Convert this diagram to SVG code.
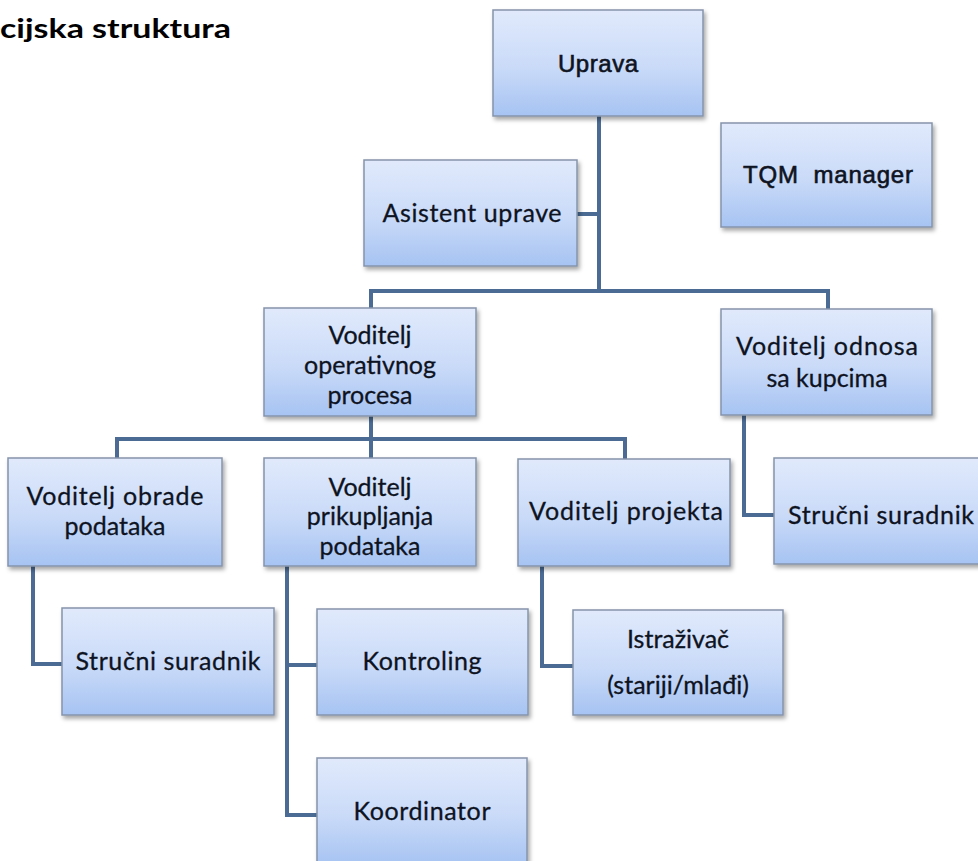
<svg xmlns="http://www.w3.org/2000/svg" width="978" height="861" viewBox="0 0 978 861">
<defs>
<linearGradient id="g" x1="0" y1="0" x2="0" y2="1">
<stop offset="0" stop-color="#e1eafc"/>
<stop offset="0.55" stop-color="#c9daf8"/>
<stop offset="1" stop-color="#a6c3f2"/>
</linearGradient>
<filter id="sh" x="-10%" y="-10%" width="125%" height="130%">
<feDropShadow dx="2" dy="3" stdDeviation="2" flood-color="#000" flood-opacity="0.35"/>
</filter>
</defs>
<style>
.box{fill:url(#g);stroke:#8594ab;stroke-width:1.5;filter:url(#sh)}
.t{font-family:Lato,"Open Sans","DejaVu Sans",sans-serif;font-size:25px;fill:#0e1322;text-anchor:middle;stroke:#0e1322;stroke-width:0.3}
.a{font-family:"Liberation Sans",Arial,sans-serif;font-size:24px;fill:#0e1322;text-anchor:middle;stroke:#0e1322;stroke-width:0.6}
.c{fill:none;stroke:#4b6b94;stroke-width:4}
</style>
<rect width="978" height="861" fill="#ffffff"/>
<text x="0" y="38" font-family="Lato,'Open Sans',sans-serif" font-size="26" font-weight="bold" fill="#000" textLength="231" lengthAdjust="spacingAndGlyphs">cijska struktura</text>
<g id="connectors">
<path class="c" d="M599 116V291M577 214H599M371 308V291H828V309M371 416V458M117 458V439H625V459M744 415V515H774M33 566V664H62M287 566V815H317M287 665H317M542 566V666H573"/>
</g>
<g id="uprava"><rect class="box" x="493" y="10" width="210" height="106"/><text class="a" x="598" y="72" textLength="80">Uprava</text></g>
<g id="asistent"><rect class="box" x="364" y="160" width="213" height="106"/><text class="t" x="472" y="222" textLength="179">Asistent uprave</text></g>
<g id="tqm"><rect class="box" x="721" y="123" width="211" height="104"/><text class="a" x="828" y="183" textLength="170" xml:space="preserve">TQM  manager</text></g>
<g id="operativni"><rect class="box" x="264" y="308" width="212" height="108"/><text class="t" x="370" y="344">Voditelj</text><text class="t" x="370" y="374">operativnog</text><text class="t" x="370" y="404">procesa</text></g>
<g id="odnosi"><rect class="box" x="721" y="309" width="211" height="106"/><text class="t" x="827" y="355" textLength="182">Voditelj odnosa</text><text class="t" x="827" y="387">sa kupcima</text></g>
<g id="obrada"><rect class="box" x="8" y="458" width="214" height="108"/><text class="t" x="115" y="505" textLength="177">Voditelj obrade</text><text class="t" x="115" y="535">podataka</text></g>
<g id="prikupljanje"><rect class="box" x="264" y="458" width="212" height="108"/><text class="t" x="370" y="496">Voditelj</text><text class="t" x="370" y="525">prikupljanja</text><text class="t" x="370" y="555">podataka</text></g>
<g id="projekt"><rect class="box" x="518" y="459" width="212" height="107"/><text class="t" x="626" y="520" textLength="194">Voditelj projekta</text></g>
<g id="strucni-desno"><rect class="box" x="774" y="458" width="211" height="106"/><text class="t" x="881" y="524" textLength="186">Stručni suradnik</text></g>
<g id="strucni-lijevo"><rect class="box" x="62" y="608" width="212" height="107"/><text class="t" x="168" y="670" textLength="185">Stručni suradnik</text></g>
<g id="kontroling"><rect class="box" x="317" y="609" width="211" height="106"/><text class="t" x="422" y="670" textLength="119">Kontroling</text></g>
<g id="istrazivac"><rect class="box" x="573" y="610" width="210" height="105"/><text class="t" x="678" y="648">Istraživač</text><text class="t" x="678" y="694">(stariji/mlađi)</text></g>
<g id="koordinator"><rect class="box" x="317" y="758" width="210" height="107"/><text class="t" x="422" y="820" textLength="137">Koordinator</text></g>
</svg>
